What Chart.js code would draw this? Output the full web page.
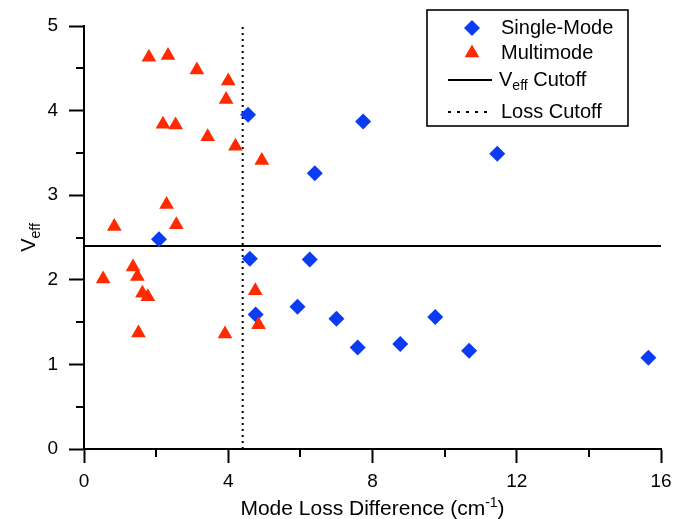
<!DOCTYPE html>
<html>
<head>
<meta charset="utf-8">
<title>Veff vs Mode Loss Difference</title>
<script src="https://cdn.jsdelivr.net/npm/chart.js@4.4.1/dist/chart.umd.min.js"></script>
<style>
  html, body { margin: 0; padding: 0; background: #fff; }
  .chart-container { position: relative; width: 691px; height: 519px; }
</style>
</head>
<body>
<div class="chart-container"><canvas id="chart"></canvas></div>
<script>
// data
const singleX = [4.55, 6.40, 2.08, 7.74, 11.46, 4.60, 6.26, 4.76, 5.92, 7.00, 7.59, 8.77, 9.74, 10.68, 15.65];
const singleY = [3.95, 3.26, 2.48, 3.87, 3.49, 2.25, 2.24, 1.59, 1.68, 1.54, 1.20, 1.24, 1.56, 1.16, 1.08];
const multiX = [1.80, 2.33, 3.13, 4.00, 3.94, 2.19, 2.54, 3.43, 4.20, 4.93, 2.29, 0.84, 2.56, 0.53, 1.36, 1.48, 1.62, 1.77, 1.51, 3.91, 4.75, 4.84];
const multiY = [4.63, 4.65, 4.48, 4.35, 4.13, 3.84, 3.83, 3.69, 3.58, 3.41, 2.89, 2.63, 2.65, 2.01, 2.15, 2.04, 1.84, 1.80, 1.37, 1.36, 1.87, 1.47];
const vEffCutoff = 2.4;
const lossCutoff = 4.4;
const xRange = [0, 16];
const yRange = [0, 5];
const xTickLabels = [0, 4, 8, 12, 16];
const yTickLabels = [0, 1, 2, 3, 4, 5];

const BLUE = '#0a3cf2';
const RED = '#ff2a00';
const FONT = "'Liberation Sans', Arial, sans-serif";
const BIG = 20;
const SMALL = 14;

function toPoints(xs, ys) {
  return xs.map((x, i) => ({ x: x, y: ys[i] }));
}

// draw text made of parts, some of them sub/superscript
function drawRich(ctx, parts, x, y) {
  let cx = x;
  parts.forEach(p => {
    ctx.font = p.size + 'px ' + FONT;
    ctx.fillText(p.t, cx, y + (p.dy || 0));
    cx += ctx.measureText(p.t).width;
  });
}
function richWidth(ctx, parts) {
  let w = 0;
  parts.forEach(p => {
    ctx.font = p.size + 'px ' + FONT;
    w += ctx.measureText(p.t).width;
  });
  return w;
}

const decorations = {
  id: 'decorations',
  afterDraw(chart) {
    const ctx = chart.ctx;
    const area = chart.chartArea;
    const xs = chart.scales.x;
    const ys = chart.scales.y;
    ctx.save();
    ctx.strokeStyle = '#000';
    ctx.fillStyle = '#000';
    ctx.lineWidth = 2;

    // minor ticks
    ctx.beginPath();
    ys.ticks.forEach(t => {
      if (yTickLabels.indexOf(t.value) < 0) {
        const py = Math.round(ys.getPixelForValue(t.value));
        ctx.moveTo(area.left - 8, py);
        ctx.lineTo(area.left, py);
      }
    });
    xs.ticks.forEach(t => {
      if (xTickLabels.indexOf(t.value) < 0) {
        const px = Math.round(xs.getPixelForValue(t.value));
        ctx.moveTo(px, area.bottom);
        ctx.lineTo(px, area.bottom + 8);
      }
    });
    ctx.stroke();

    // axis titles
    ctx.textBaseline = 'alphabetic';
    const xTitle = [
      { t: 'Mode Loss Difference (cm', size: 21 },
      { t: '-1', size: SMALL, dy: -8 },
      { t: ')', size: 21 }
    ];
    const cxMid = (area.left + area.right) / 2;
    drawRich(ctx, xTitle, cxMid - richWidth(ctx, xTitle) / 2, 515);

    const yTitle = [
      { t: 'V', size: BIG },
      { t: 'eff', size: SMALL, dy: 5 }
    ];
    ctx.save();
    ctx.translate(35, (area.top + area.bottom) / 2);
    ctx.rotate(-Math.PI / 2);
    drawRich(ctx, yTitle, -richWidth(ctx, yTitle) / 2, 0);
    ctx.restore();

    // legend
    const box = { l: 427, t: 10, r: 628, b: 126 };
    ctx.fillStyle = '#fff';
    ctx.fillRect(box.l, box.t, box.r - box.l, box.b - box.t);
    ctx.lineWidth = 1.6;
    ctx.strokeStyle = '#000';
    ctx.strokeRect(box.l, box.t, box.r - box.l, box.b - box.t);

    const symX = 472;
    const textX = 501;
    const rows = [28, 53, 80, 112];

    ctx.fillStyle = BLUE;
    ctx.beginPath();
    ctx.moveTo(symX - 8, rows[0]); ctx.lineTo(symX, rows[0] - 8);
    ctx.lineTo(symX + 8, rows[0]); ctx.lineTo(symX, rows[0] + 8);
    ctx.closePath(); ctx.fill();

    ctx.fillStyle = RED;
    ctx.beginPath();
    ctx.moveTo(symX, rows[1] - 8.5);
    ctx.lineTo(symX + 7.4, rows[1] + 4.25);
    ctx.lineTo(symX - 7.4, rows[1] + 4.25);
    ctx.closePath(); ctx.fill();

    ctx.strokeStyle = '#000';
    ctx.lineWidth = 2;
    ctx.beginPath();
    ctx.moveTo(448, rows[2]); ctx.lineTo(492, rows[2]);
    ctx.stroke();
    ctx.setLineDash([3, 6]);
    ctx.beginPath();
    ctx.moveTo(448, rows[3]); ctx.lineTo(492, rows[3]);
    ctx.stroke();
    ctx.setLineDash([]);

    ctx.fillStyle = '#000';
    ctx.textBaseline = 'middle';
    drawRich(ctx, [{ t: 'Single-Mode', size: BIG }], textX, rows[0]);
    drawRich(ctx, [{ t: 'Multimode', size: BIG }], textX, rows[1]);
    drawRich(ctx, [{ t: 'V', size: BIG }, { t: 'eff', size: SMALL, dy: 6 }, { t: ' Cutoff', size: BIG }], textX - 2, rows[2]);
    drawRich(ctx, [{ t: 'Loss Cutoff', size: BIG }], textX, rows[3]);
    ctx.restore();
  }
};

const tickColor = labels => ctx => (ctx.tick && labels.indexOf(ctx.tick.value) >= 0 ? '#000' : 'rgba(0,0,0,0)');

new Chart(document.getElementById('chart'), {
  type: 'scatter',
  data: {
    datasets: [
      {
        label: 'Single-Mode',
        data: toPoints(singleX, singleY),
        pointStyle: 'rectRot',
        pointRadius: 8,
        pointHoverRadius: 8,
        backgroundColor: BLUE,
        borderWidth: 0,
        order: 1
      },
      {
        label: 'Multimode',
        data: toPoints(multiX, multiY),
        pointStyle: 'triangle',
        pointRadius: 8.5,
        pointHoverRadius: 8.5,
        backgroundColor: RED,
        borderWidth: 0,
        order: 0
      },
      {
        label: 'Veff Cutoff',
        type: 'line',
        data: [{ x: xRange[0], y: vEffCutoff }, { x: xRange[1], y: vEffCutoff }],
        borderColor: '#000',
        borderWidth: 2,
        pointRadius: 0,
        order: 2
      },
      {
        label: 'Loss Cutoff',
        type: 'line',
        data: [{ x: lossCutoff, y: yRange[0] }, { x: lossCutoff, y: yRange[1] }],
        borderColor: '#000',
        borderWidth: 2,
        borderDash: [2, 4],
        pointRadius: 0,
        order: 2
      }
    ]
  },
  options: {
    responsive: true,
    maintainAspectRatio: false,
    animation: false,
    layout: { padding: { top: 26, right: 30, left: 0, bottom: 0 } },
    plugins: {
      legend: { display: false },
      tooltip: { enabled: false }
    },
    scales: {
      x: {
        type: 'linear',
        min: xRange[0],
        max: xRange[1],
        afterFit(scale) { scale.height = 70; },
        border: { display: true, color: '#000', width: 2 },
        grid: { drawOnChartArea: false, drawTicks: true, tickLength: 14, tickWidth: 2, tickColor: tickColor(xTickLabels) },
        ticks: {
          stepSize: 2,
          padding: 7,
          color: '#000',
          font: { family: FONT, size: 19 },
          callback: v => (xTickLabels.indexOf(v) >= 0 ? String(v) : '')
        }
      },
      y: {
        type: 'linear',
        min: yRange[0],
        max: yRange[1],
        afterFit(scale) { scale.width = 84; },
        border: { display: true, color: '#000', width: 2 },
        grid: { drawOnChartArea: false, drawTicks: true, tickLength: 15, tickWidth: 2, tickColor: tickColor(yTickLabels) },
        ticks: {
          stepSize: 0.5,
          padding: 11,
          color: '#000',
          font: { family: FONT, size: 19 },
          callback: v => (yTickLabels.indexOf(v) >= 0 ? String(v) : '')
        }
      }
    }
  },
  plugins: [decorations]
});
</script>
</body>
</html>
